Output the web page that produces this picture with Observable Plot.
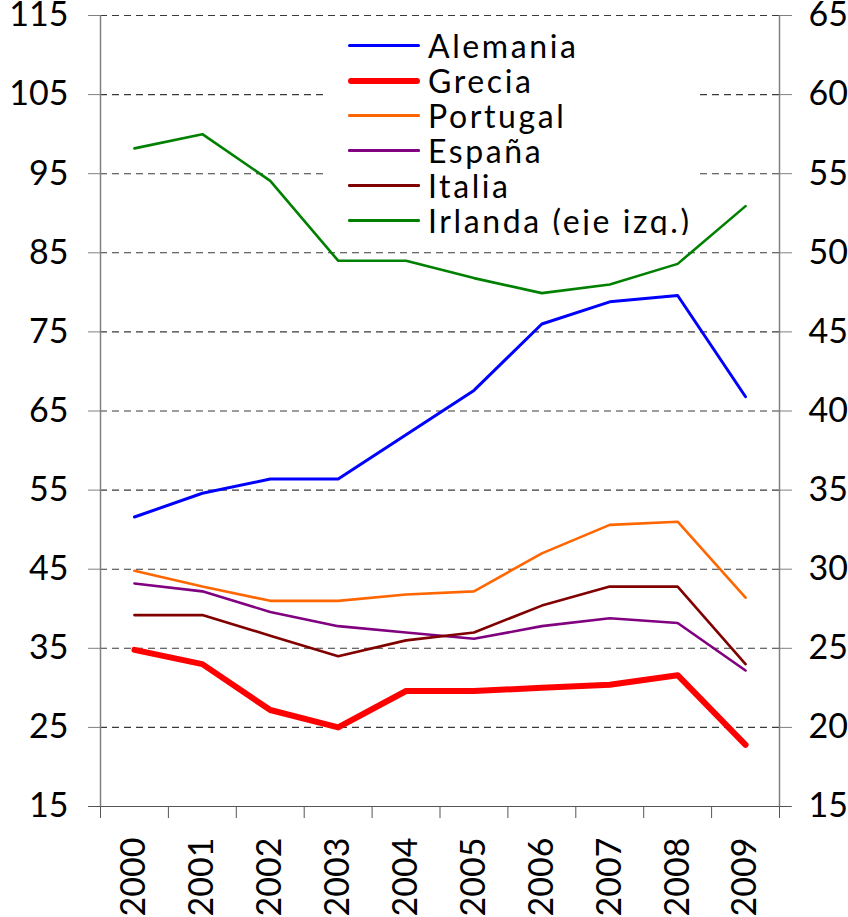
<!DOCTYPE html>
<html>
<head>
<meta charset="utf-8">
<script src="https://cdn.jsdelivr.net/npm/d3@7"></script>
<script src="https://cdn.jsdelivr.net/npm/@observablehq/plot@0.6"></script>
<style>
  html, body { margin: 0; padding: 0; background: #fff; }
  #wrap { position: relative; width: 848px; height: 917px; overflow: hidden; font-family: Lato, "Open Sans", sans-serif; }
  #legend { position: absolute; left: 325px; top: 22px; width: 375px; height: 213px; background: #fff; overflow: hidden; }
  .row { position: absolute; left: 0; height: 35px; width: 375px; }
  .sw { position: absolute; left: 23px; width: 72px; top: 50%; }
  .lab { position: absolute; left: 103px; top: 0; font-size: 32px; line-height: 35px; letter-spacing: 2.6px; color: #000; white-space: nowrap; }
</style>
</head>
<body>
<div id="wrap"><div id="chart"></div><div id="legend"></div></div>
<script>
const years    = [2000, 2001, 2002, 2003, 2004, 2005, 2006, 2007, 2008, 2009];
// right axis (15–65)
const alemania = [33.3, 34.8, 35.7, 35.7, 38.5, 41.3, 45.5, 46.9, 47.3, 40.9];
const grecia   = [24.9, 24.0, 21.1, 20.0, 22.3, 22.3, 22.5, 22.7, 23.3, 18.9];
const portugal = [29.9, 28.9, 28.0, 28.0, 28.4, 28.6, 31.0, 32.8, 33.0, 28.2];
const espana   = [29.1, 28.6, 27.3, 26.4, 26.0, 25.6, 26.4, 26.9, 26.6, 23.6];
const italia   = [27.1, 27.1, 25.8, 24.5, 25.5, 26.0, 27.7, 28.9, 28.9, 24.0];
// left axis (15–115)
const irlanda  = [98.2, 100.0, 94.1, 84.0, 84.0, 81.8, 79.9, 81.0, 83.6, 90.9];

const seriesNames = ["Alemania", "Grecia", "Portugal", "España", "Italia", "Irlanda (eje izq.)"];
const seriesValues = [alemania, grecia, portugal, espana, italia, irlanda];
const seriesColors = ["#0000ff", "#ff0000", "#ff6600", "#800080", "#800000", "#008000"];
const seriesWidths = [3, 6, 2.6, 2.6, 2.6, 2.6];
const leftTicks = [15, 25, 35, 45, 55, 65, 75, 85, 95, 105, 115];

const rows = [];
seriesNames.forEach((name, i) => {
  seriesValues[i].forEach((v, j) => rows.push({series: name, year: years[j], value: v, left: i === 5}));
});
// map right-axis values onto the left-axis scale (15→15, 65→115)
const toLeft = v => 15 + (v - 15) * 2;
const fromLeft = v => (v - 15) / 2 + 15;

const bounds = d3.range(1999.5, 2010, 1);

const marks = [
  Plot.ruleY(leftTicks.slice(1), {stroke: "#3a3a3a", strokeWidth: 1.1, strokeDasharray: "7,5"}),
  Plot.axisY({anchor: "left", label: null, ticks: leftTicks, tickSize: 12, tickPadding: 20, fontSize: 34, stroke: "#808080", color: "#000"}),
  Plot.axisY({anchor: "right", label: null, ticks: leftTicks, tickSize: 12, tickPadding: 17, fontSize: 34, tickFormat: d => fromLeft(d), stroke: "#808080", color: "#000"}),
  Plot.axisX({label: null, ticks: bounds, tickSize: 12, tickFormat: () => "", stroke: "#555"}),
  Plot.axisX({label: null, ticks: years, tickSize: 0, tickPadding: 31, tickRotate: -90, fontSize: 34, tickFormat: d => String(d), color: "#000"}),
  Plot.ruleX([1999.5, 2009.5], {stroke: "#808080", strokeWidth: 1.5}),
  Plot.ruleY([15], {stroke: "#555", strokeWidth: 1.2, insetLeft: -12, insetRight: -12}),
  ...seriesNames.map((name, i) => Plot.line(rows.filter(d => d.series === name), {
    x: "year",
    y: d => d.left ? d.value : toLeft(d.value),
    stroke: seriesColors[i],
    strokeWidth: seriesWidths[i],
    strokeLinejoin: "round",
    strokeLinecap: "round"
  }))
];

const chart = Plot.plot({
  width: 848,
  height: 917,
  marginTop: 15,
  marginBottom: 111,
  marginLeft: 100,
  marginRight: 69,
  style: {fontFamily: "Lato, 'Open Sans', sans-serif", background: "#fff", overflow: "visible"},
  x: {domain: [1999.5, 2009.5], axis: null},
  y: {domain: [15, 115], axis: null},
  marks
});
document.getElementById("chart").appendChild(chart);

const legend = document.getElementById("legend");
seriesNames.forEach((name, i) => {
  const row = document.createElement("div");
  row.className = "row";
  row.style.top = (6 + i * 35) + "px";
  const sw = document.createElement("div");
  sw.className = "sw";
  sw.style.height = seriesWidths[i] + "px";
  sw.style.marginTop = (-seriesWidths[i] / 2) + "px";
  sw.style.background = seriesColors[i];
  sw.style.borderRadius = (seriesWidths[i] / 2) + "px";
  const lab = document.createElement("div");
  lab.className = "lab";
  lab.textContent = name;
  row.appendChild(sw);
  row.appendChild(lab);
  legend.appendChild(row);
});
</script>
</body>
</html>
